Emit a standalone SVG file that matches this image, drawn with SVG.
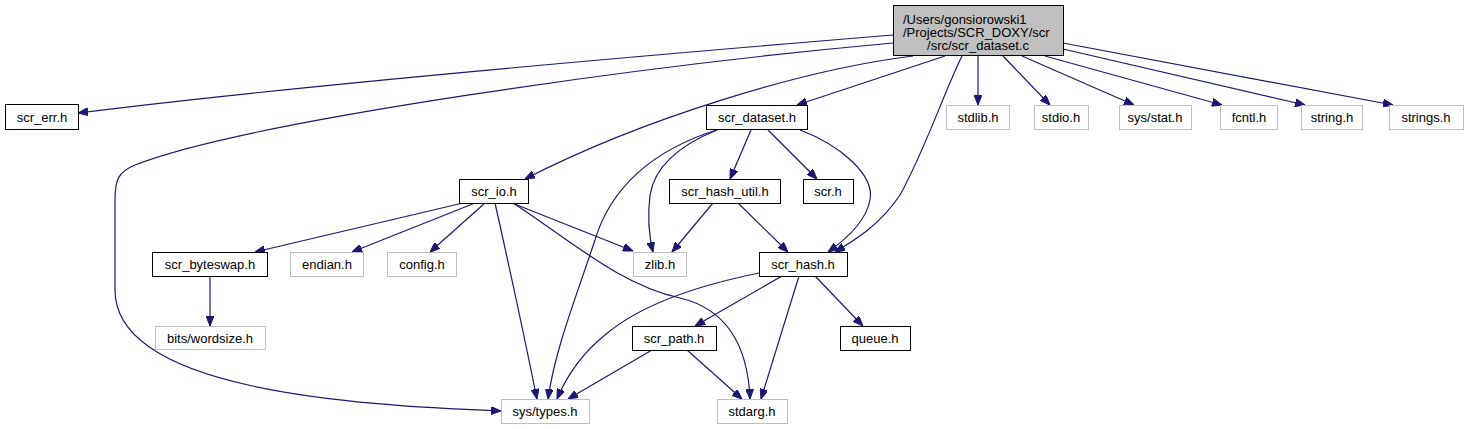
<svg xmlns="http://www.w3.org/2000/svg" width="1467" height="429" viewBox="0 0 1467 429">
<style>
.n rect{fill:#ffffff;stroke:#000000;stroke-width:1}
.g rect{fill:#ffffff;stroke:#bfbfbf;stroke-width:1}
.root rect{fill:#bfbfbf;stroke:#000000;stroke-width:1}
text{font-family:"Liberation Sans",Arial,sans-serif;font-size:13px;fill:#000000;text-anchor:middle}
.e path{fill:none;stroke:#191970;stroke-width:1.2;marker-end:url(#arr)}
</style>
<defs>
<marker id="arr" viewBox="0 0 10 8" refX="10" refY="4" markerWidth="10" markerHeight="8" markerUnits="userSpaceOnUse" orient="auto">
<path d="M0,0 L10,4 L0,8 z" fill="#191970" stroke="#191970" stroke-width="1"/>
</marker>
</defs>
<rect width="1467" height="429" fill="#ffffff"/>
<g id="edges" class="e">
<path d="M893,35 C 650,55 300,85 78,113"/>
<path d="M893,43 C 650,65 250,120 135,165 C 118,172 115,180 115,200 L115,290 C115,390 350,405 501,411"/>
<path d="M913,56 C 800,70 640,120 525,179"/>
<path d="M945,56 L797,105"/>
<path d="M962,56 C 945,90 925,150 900,195 C 880,225 855,240 835,252"/>
<path d="M978,56 L978,105"/>
<path d="M1003,56 L1050,105"/>
<path d="M1022,56 L1134,105"/>
<path d="M1045,56 L1222,105"/>
<path d="M1063,49 L1305,105"/>
<path d="M1063,43 L1393,105"/>
<path d="M720,129 C 650,150 610,190 595,240 C 575,300 555,350 548,399"/>
<path d="M717,130 C 680,145 655,165 650,195 C 647,220 650,240 653,252"/>
<path d="M751,130 L730,179"/>
<path d="M768,130 L817,179"/>
<path d="M800,130 C 840,145 875,175 870,200 C 866,222 845,240 828,252"/>
<path d="M713,203 L672,252"/>
<path d="M738,203 L788,252"/>
<path d="M463,203 L255,252"/>
<path d="M475,203 L352,252"/>
<path d="M485,203 L430,252"/>
<path d="M512,203 L633,251"/>
<path d="M495,203 C 510,270 525,340 537,399"/>
<path d="M513,203 C 570,240 620,285 680,298 C 730,310 748,350 750,399"/>
<path d="M210,276 L210,326"/>
<path d="M759,273 C 700,285 640,305 605,335 C 580,355 565,380 557,399"/>
<path d="M782,276 L695,326"/>
<path d="M799,276 L761,399"/>
<path d="M815,276 L863,326"/>
<path d="M652,350 L568,399"/>
<path d="M687,350 L742,399"/>
</g>
<g id="root" class="root"><rect x="893.5" y="5.5" width="170" height="50"/>
<text x="903" y="24" style="text-anchor:start">/Users/gonsiorowski1</text>
<text x="903" y="37" style="text-anchor:start">/Projects/SCR_DOXY/scr</text>
<text x="978" y="50">/src/scr_dataset.c</text></g>
<g id="scr_err" class="n"><rect x="5.5" y="104.5" width="73" height="25"/><text x="42" y="121.5">scr_err.h</text></g>
<g id="scr_dataset" class="n"><rect x="706.5" y="105.5" width="101" height="24"/><text x="757" y="122">scr_dataset.h</text></g>
<g id="stdlib" class="g"><rect x="946.5" y="105.5" width="63" height="24"/><text x="978" y="122">stdlib.h</text></g>
<g id="stdio" class="g"><rect x="1034.5" y="105.5" width="54" height="24"/><text x="1061" y="122">stdio.h</text></g>
<g id="sys_stat" class="g"><rect x="1119.5" y="105.5" width="72" height="24"/><text x="1155" y="122">sys/stat.h</text></g>
<g id="fcntl" class="g"><rect x="1220.5" y="105.5" width="57" height="24"/><text x="1249" y="122">fcntl.h</text></g>
<g id="string" class="g"><rect x="1301.5" y="105.5" width="61" height="24"/><text x="1332" y="122">string.h</text></g>
<g id="strings" class="g"><rect x="1389.5" y="105.5" width="74" height="24"/><text x="1426" y="122">strings.h</text></g>
<g id="scr_io" class="n"><rect x="459.5" y="179.5" width="69" height="24"/><text x="494" y="196">scr_io.h</text></g>
<g id="scr_hash_util" class="n"><rect x="669.5" y="179.5" width="111" height="24"/><text x="725" y="196">scr_hash_util.h</text></g>
<g id="scr" class="n"><rect x="803.5" y="179.5" width="50" height="24"/><text x="828" y="196">scr.h</text></g>
<g id="scr_byteswap" class="n"><rect x="152.5" y="252.5" width="115" height="24"/><text x="210" y="269">scr_byteswap.h</text></g>
<g id="endian" class="g"><rect x="290.5" y="252.5" width="73" height="24"/><text x="327" y="269">endian.h</text></g>
<g id="config" class="g"><rect x="387.5" y="252.5" width="69" height="24"/><text x="422" y="269">config.h</text></g>
<g id="zlib" class="g"><rect x="633.5" y="252.5" width="53" height="24"/><text x="660" y="269">zlib.h</text></g>
<g id="scr_hash" class="n"><rect x="759.5" y="252.5" width="88" height="24"/><text x="803" y="269">scr_hash.h</text></g>
<g id="bits_wordsize" class="g"><rect x="155.5" y="326.5" width="110" height="23"/><text x="210" y="342.5">bits/wordsize.h</text></g>
<g id="scr_path" class="n"><rect x="632.5" y="326.5" width="84" height="24"/><text x="674" y="343">scr_path.h</text></g>
<g id="queue" class="n"><rect x="840.5" y="326.5" width="70" height="24"/><text x="875" y="343">queue.h</text></g>
<g id="sys_types" class="g"><rect x="501.5" y="399.5" width="88" height="24"/><text x="545" y="416">sys/types.h</text></g>
<g id="stdarg" class="g"><rect x="717.5" y="399.5" width="70" height="24"/><text x="752" y="416">stdarg.h</text></g>
</svg>
